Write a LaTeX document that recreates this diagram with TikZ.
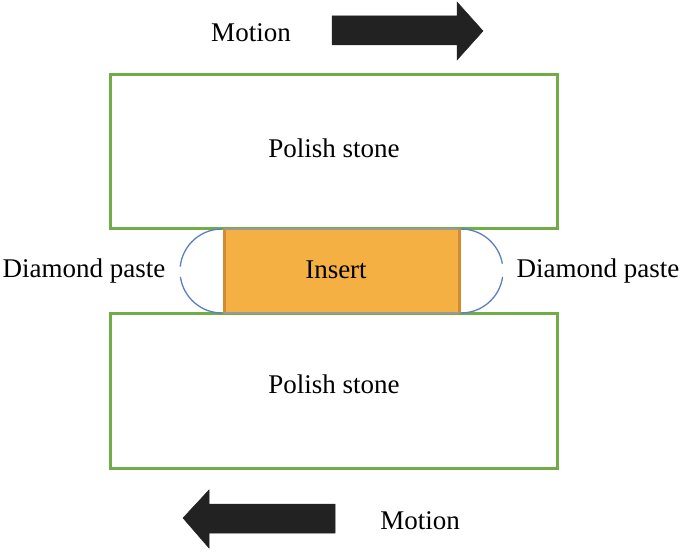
\documentclass[tikz,border=0pt]{standalone}
\usepackage{fontspec}
\setmainfont{Liberation Serif}
\definecolor{stonegreen}{HTML}{70AD47}
\definecolor{insertfill}{HTML}{F4B042}
\definecolor{insertedge}{HTML}{D48A34}
\definecolor{pasteblue}{HTML}{5B7FC4}
\definecolor{arrowblack}{HTML}{222222}
\begin{document}
\begin{tikzpicture}[x=1pt,y=-1pt,
  lbl/.style={font=\fontsize{27}{31}\selectfont, inner sep=0pt},
  stone/.style={draw=stonegreen, line width=3pt},
  paste/.style={draw=pasteblue, line width=1.3pt},
  bigarrow/.style={fill=arrowblack, draw=arrowblack, line width=0.5pt}]
\useasboundingbox (0,0) rectangle (685,553);
% stones
\draw[stone] (110,75) rectangle (557,229);
\draw[stone] (110,313) rectangle (557,468);
% insert
\fill[insertfill] (224,229) rectangle (459,313);
\draw[insertedge, line width=3pt] (224,229) -- (224,313) (459,229) -- (459,313);
\draw[gray!80, line width=2pt] (224,229) -- (459,229) (224,313) -- (459,313);
% diamond paste arcs (centre left (222,271), right (461,271), r=42)
\draw[paste] (222,229) arc[start angle=-90, end angle=-174, radius=42];
\draw[paste] (222,313) arc[start angle=90, end angle=172, radius=42];
\draw[paste] (461,229) arc[start angle=-90, end angle=-10, radius=42];
\draw[paste] (461,313) arc[start angle=90, end angle=8, radius=42];
% arrows
\draw[bigarrow] (332,16) -- (457,16) -- (457,2) -- (483,31) -- (457,60) -- (457,45) -- (332,45) -- cycle;
\draw[bigarrow] (335,504) -- (209,504) -- (209,490) -- (183,518) -- (209,548) -- (209,533) -- (335,533) -- cycle;
% labels
\node[lbl] (m1) at (251,33) {Motion};
\node[lbl] (m2) at (420,521) {Motion};
\node[lbl] (ps1) at (334,148) {Polish stone};
\node[lbl] (ps2) at (334,384) {Polish stone};
\node[lbl] (ins) at (336,270) {Insert};
\node[lbl] (dl) at (84,271) {Diamond paste};
\node[lbl] (dr) at (598,271) {Diamond paste};
\end{tikzpicture}
\end{document}
